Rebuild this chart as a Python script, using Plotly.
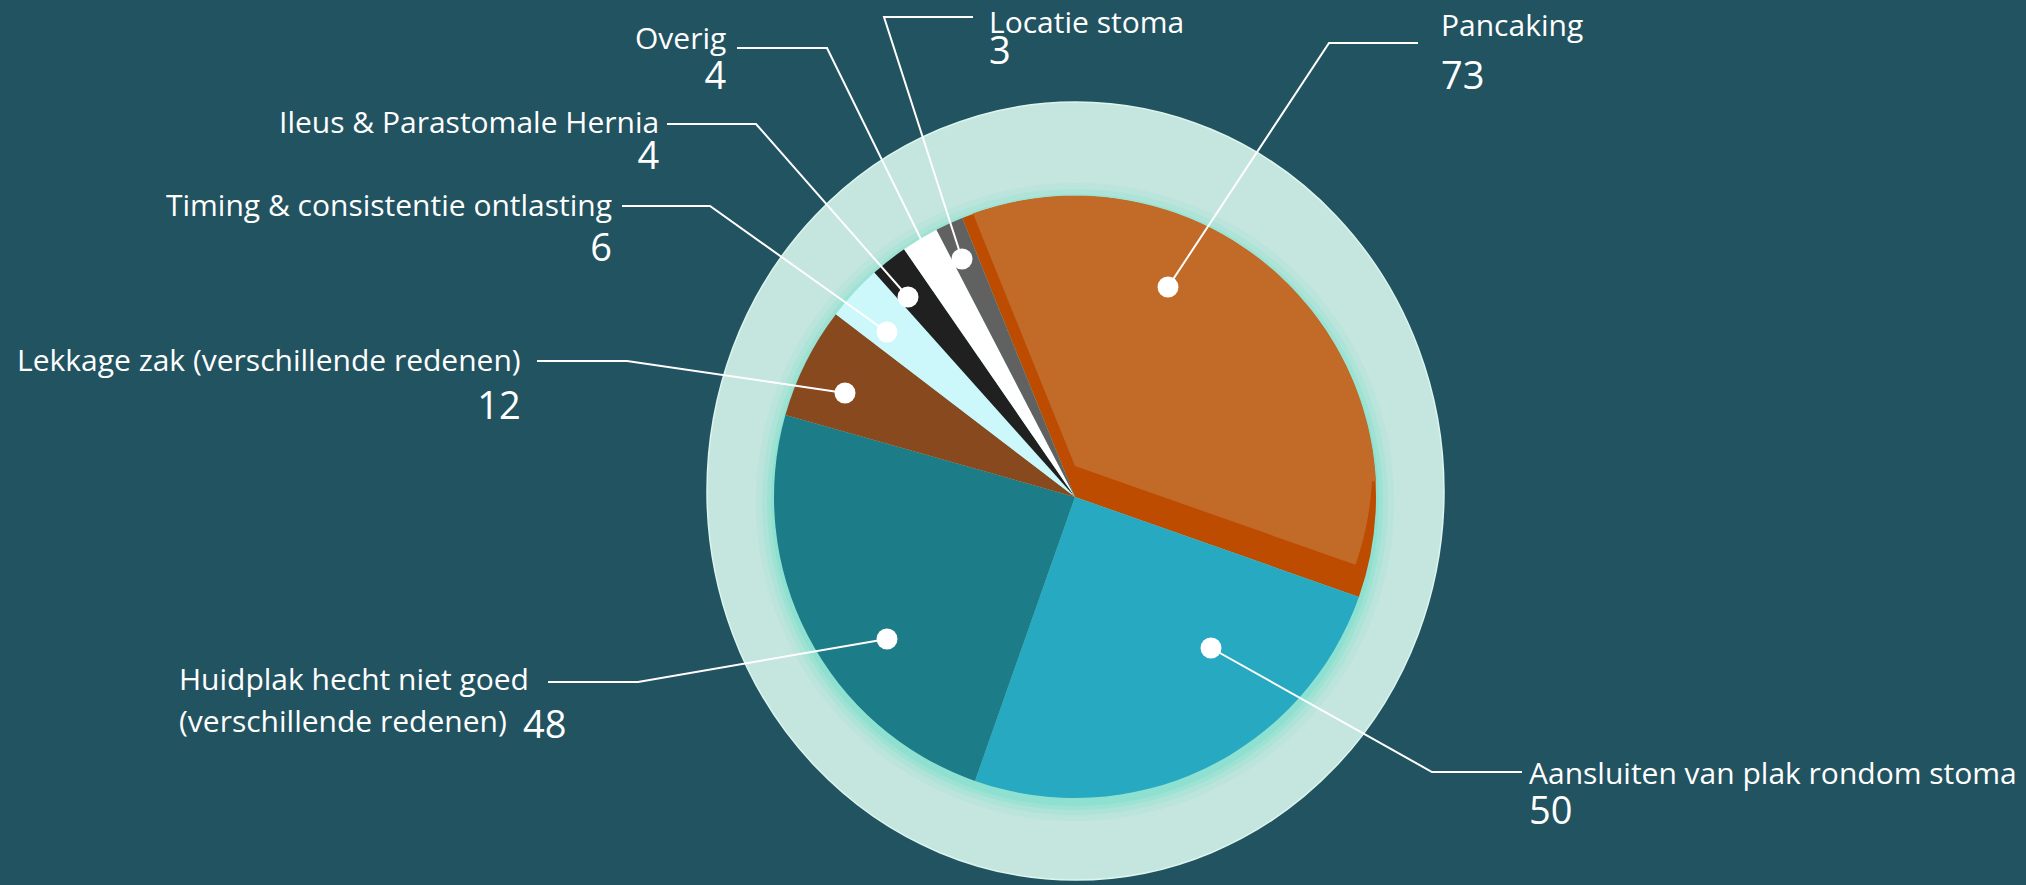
import numpy as np
import plotly.graph_objects as go

W, H = 2026, 885

# ---------------- data ----------------
categories = [
    "Pancaking",
    "Aansluiten van plak rondom stoma",
    "Huidplak hecht niet goed (verschillende redenen)",
    "Lekkage zak (verschillende redenen)",
    "Timing & consistentie ontlasting",
    "Ileus & Parastomale Hernia",
    "Overig",
    "Locatie stoma",
]
values = [73, 50, 48, 12, 6, 4, 4, 3]
label_lines = [
    ["Pancaking"],
    ["Aansluiten van plak rondom stoma"],
    ["Huidplak hecht niet goed", "(verschillende redenen)"],
    ["Lekkage zak (verschillende redenen)"],
    ["Timing & consistentie ontlasting"],
    ["Ileus & Parastomale Hernia"],
    ["Overig"],
    ["Locatie stoma"],
]

# ---------------- styles ----------------
slice_colors = ["#bd4c00", "#27a9c1", "#1c7c87", "#87491d",
                "#ccf8fc", "#202020", "#ffffff", "#616161"]
face_color = "#c26a28"
BG = "#225361"
RING = "#c5e5df"
FONT = "Open Sans"
LABEL_SIZE = 30
NUM_SIZE = 38
ASCENT = 1.069  # Open Sans ascender (em)

# pie geometry in pixels
CX, CY, R = 1075, 497, 301
ROT = -22

# label layout (pixels): anchor x, label baseline, number baseline, leader path
# "stacked" labels put the value under the label; the split one puts it beside line 2
label_layout = [
    dict(x=1440, xa="left", b1=35, b2=88, path=[(1418, 43), (1329, 43), (1168, 287)]),
    dict(x=1528, xa="left", b1=783, b2=823, path=[(1522, 772), (1432, 772), (1211, 648)]),
    dict(x=178, xa="left", ty=[679, 721], nx=522, ny=723.5, path=[(548, 682), (638, 682), (887, 639)]),
    dict(x=522, xa="right", b1=370, b2=418, path=[(537, 361), (627, 361), (845, 393)]),
    dict(x=613, xa="right", b1=215, b2=260, path=[(622, 206), (710, 206), (887, 332)]),
    dict(x=660, xa="right", b1=132, b2=168, path=[(667, 124), (756, 124), (908, 297)]),
    dict(x=727, xa="right", b1=48, b2=88, path=[(737, 48), (827, 48), (940, 278)]),
    dict(x=988, xa="left", b1=32, b2=63, path=[(973, 17), (884, 17), (962, 259)]),
]
DOT_R = 10.5


def px(x):
    return x / W


def py(y):
    return 1 - y / H


fig = go.Figure()

# ring + soft glow (below the pie)
shapes = []
shapes.append(dict(type="circle", xref="paper", yref="paper", layer="below",
                   x0=px(707), x1=px(1444), y0=py(880), y1=py(102),
                   fillcolor=RING, line=dict(color="#dcf5ef", width=1.5)))
for extra, op in [(18, 0.10), (12, 0.16), (7, 0.22), (3, 0.3)]:
    rr = R + extra
    gy = CY + 5
    shapes.append(dict(type="circle", xref="paper", yref="paper", layer="below",
                       x0=px(CX - rr), x1=px(CX + rr), y0=py(gy + rr), y1=py(gy - rr),
                       fillcolor=f"rgba(105,222,200,{op})", line=dict(width=0)))

fig.add_trace(go.Pie(
    labels=categories, values=values, sort=False, direction="clockwise", rotation=ROT,
    marker=dict(colors=slice_colors, line=dict(width=0)),
    textinfo="none", hoverinfo="label+value", showlegend=False,
    domain=dict(x=[px(CX - R), px(CX + R)], y=[py(CY + R), py(CY - R)]),
))

# raised top face of the first slice (3D effect), derived from its value
d = 31.0
Rc = R + 0.3
a0 = ROT
a1 = ROT + 360.0 * values[0] / sum(values)
vx, vy = CX, CY - d
ar = np.radians(a0)
t = -d * np.cos(ar) + np.sqrt((d * np.cos(ar)) ** 2 - d ** 2 + Rc ** 2)
q0 = (vx + t * np.sin(ar), vy - t * np.cos(ar))
th0 = np.degrees(np.arctan2(q0[0] - CX, -(q0[1] - CY)))
s = np.sqrt(Rc ** 2 - d ** 2 / 4)
thi = np.degrees(np.arctan2(s, d / 2))
phi = np.degrees(np.arctan2(s, -d / 2))
pts = [(vx, vy), q0]
for a in np.linspace(th0, thi, 90):
    r_ = np.radians(a)
    pts.append((CX + Rc * np.sin(r_), CY - Rc * np.cos(r_)))
for a in np.linspace(phi, a1, 30):
    r_ = np.radians(a)
    pts.append((vx + (Rc - 4) * np.sin(r_), vy - (Rc - 4) * np.cos(r_)))
face_path = "M " + " L ".join(f"{px(x):.6f},{py(y):.6f}" for x, y in pts) + " Z"
shapes.append(dict(type="path", xref="paper", yref="paper", layer="above",
                   path=face_path, fillcolor=face_color, line=dict(width=0)))

annotations = []
for i, lay in enumerate(label_layout):
    p = lay["path"]
    path = "M " + " L ".join(f"{px(x):.6f},{py(y):.6f}" for x, y in p)
    shapes.append(dict(type="path", xref="paper", yref="paper", layer="above",
                       path=path, line=dict(color="white", width=2)))
    dx, dy = p[-1]
    shapes.append(dict(type="circle", xref="paper", yref="paper", layer="above",
                       x0=px(dx - DOT_R), x1=px(dx + DOT_R), y0=py(dy + DOT_R), y1=py(dy - DOT_R),
                       fillcolor="white", line=dict(width=0)))
    if "b1" in lay:
        # label and value in one text block; line gap = 1.3 * base font size
        base = (lay["b2"] - lay["b1"]) / 1.3
        txt = (f"<span style='font-size:{LABEL_SIZE}px'>{label_lines[i][0]}</span><br>"
               f"<span style='font-size:{NUM_SIZE}px'>{values[i]}</span>")
        annotations.append(dict(text=txt, x=px(lay["x"]), y=py(lay["b1"] - ASCENT * LABEL_SIZE),
                                xref="paper", yref="paper", xanchor=lay["xa"], yanchor="top",
                                align=lay["xa"], showarrow=False, borderpad=0,
                                font=dict(family=FONT, size=base, color="white")))
    else:
        for line, ty in zip(label_lines[i], lay["ty"]):
            annotations.append(dict(text=line, x=px(lay["x"]), y=py(ty - 1), xref="paper", yref="paper",
                                    xanchor=lay["xa"], yanchor="middle", showarrow=False, borderpad=0,
                                    font=dict(family=FONT, size=LABEL_SIZE, color="white")))
        annotations.append(dict(text=str(values[i]), x=px(lay["nx"]), y=py(lay["ny"] - 1),
                                xref="paper", yref="paper", xanchor="left", yanchor="middle",
                                showarrow=False, borderpad=0,
                                font=dict(family=FONT, size=NUM_SIZE, color="white")))

fig.update_layout(
    width=W, height=H, margin=dict(l=0, r=0, t=0, b=0),
    paper_bgcolor=BG, plot_bgcolor=BG,
    shapes=shapes, annotations=annotations, showlegend=False,
)

fig.write_html("out.html", config={"displayModeBar": False},
               post_script="document.body.style.margin='0';document.body.style.overflow='hidden';")
